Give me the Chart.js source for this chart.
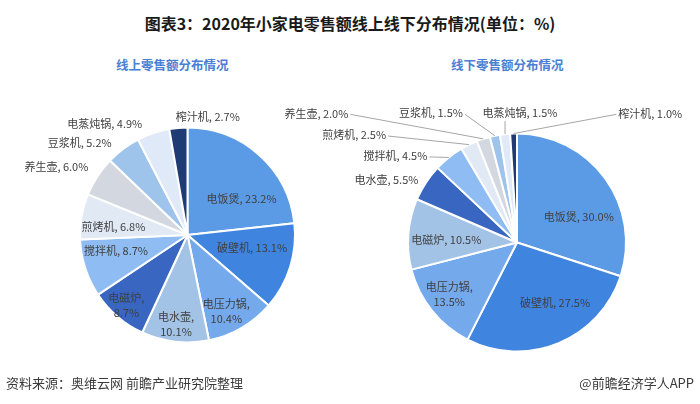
<!DOCTYPE html>
<html>
<head>
<meta charset="utf-8">
<script src="https://cdn.jsdelivr.net/npm/chart.js@4.4.1/dist/chart.umd.min.js"></script>
<style>
  body { margin: 0; background: #fff; }
  #wrap { position: relative; width: 700px; height: 404px; overflow: hidden; font-family: "Noto Sans CJK SC", sans-serif; }
  #wrap canvas { position: absolute; left: 0; top: 0; }
  .title { position: absolute; top: 11px; left: 0; width: 700px; text-align: center; font-size: 16px; font-weight: bold; color: #1a1a1a; }
  .sub { position: absolute; top: 55px; font-size: 12.5px; font-weight: bold; color: #4a80d4; }
  .foot { position: absolute; top: 373px; font-size: 13px; color: #3a3a3a; }
</style>
</head>
<body>
<div id="wrap">
  <div class="title">图表3：2020年小家电零售额线上线下分布情况(单位：%)</div>
  <div class="sub" style="left:116px">线上零售额分布情况</div>
  <div class="sub" style="left:451px">线下零售额分布情况</div>
  <canvas id="online" width="700" height="404"></canvas>
  <canvas id="offline" width="700" height="404"></canvas>
  <div class="foot" style="left:6px">资料来源：奥维云网 前瞻产业研究院整理</div>
  <div class="foot" style="right:6px">@前瞻经济学人APP</div>
</div>
<script>
// 线上
var onlineLabels = ['电饭煲', '破壁机', '电压力锅', '电水壶', '电磁炉', '搅拌机', '煎烤机', '养生壶', '豆浆机', '电蒸炖锅', '榨汁机'];
var onlineValues = [23.2, 13.1, 10.4, 10.1, 8.7, 8.7, 6.8, 6.0, 5.2, 4.9, 2.7];
// 线下
var offlineLabels = ['电饭煲', '破壁机', '电压力锅', '电磁炉', '电水壶', '搅拌机', '煎烤机', '养生壶', '豆浆机', '电蒸炖锅', '榨汁机'];
var offlineValues = [30.0, 27.5, 13.5, 10.5, 5.5, 4.5, 2.5, 2.0, 1.5, 1.5, 1.0];

var sliceColors = ['#5b9be6', '#3f84df', '#74a9ec', '#a3c3e6', '#3866c0', '#8fbdf3',
                   '#e1e9f5', '#d3d8e0', '#9fc4eb', '#dfe9f7', '#1f3b73'];

// where each label goes: inside at r * outerRadius (+nudge), or outside next to the slice
var onlinePlace = [
  {r: 0.6, dx: 11, dy: 12},
  {r: 0.6, dx: 3, dy: -6},
  {r: 0.79, dx: -4, dy: 3, wrap: true},
  {r: 0.84, dx: -1, dy: 0, wrap: true},
  {r: 0.86, dx: -1, dy: 0, wrap: true},
  {r: 0.69, dx: -1, dy: -7},
  {r: 0.7, dx: 0, dy: 5},
  {out: true, align: 'right', dx: -9, dy: -10},
  {out: true, align: 'right', dx: -11.5, dy: -6.5},
  {out: true, align: 'right', dx: -11, dy: -9.5},
  {out: true, align: 'left', dx: -2.5, dy: -11.5}
];
var offlinePlace = [
  {r: 0.69, dx: 1, dy: 19},
  {r: 0.6, dx: 13, dy: 0},
  {r: 0.75, dx: -4, dy: 1, wrap: true},
  {r: 0.66, dx: 1, dy: 3},
  {out: true, align: 'right', dx: -7.5, dy: -2.7},
  {out: true, align: 'right', dx: -21.5, dy: -1.5, line: true},
  {out: true, align: 'right', dx: -83, dy: -9.6, line: true},
  {out: true, align: 'right', dx: -135, dy: -25.5, line: true},
  {out: true, align: 'right', dx: -32, dy: -22.5, line: true},
  {out: true, align: 'center', dx: 15, dy: -21, line: true},
  {out: true, align: 'left', dx: 104.7, dy: -20.2, line: true}
];

var sliceLabels = {
  id: 'sliceLabels',
  afterDatasetsDraw: function(chart, args, opts) {
    var ctx = chart.ctx;
    var ds = chart.data.datasets[0];
    var meta = chart.getDatasetMeta(0);
    ctx.save();
    ctx.font = '11px "Noto Sans CJK SC", sans-serif';
    ctx.textBaseline = 'middle';
    meta.data.forEach(function(arc, i) {
      var p = arc.getProps(['x', 'y', 'startAngle', 'endAngle', 'outerRadius'], true);
      var mid = (p.startAngle + p.endAngle) / 2;
      var lay = opts.place[i];
      var name = chart.data.labels[i] + ',';
      var val = ds.data[i].toFixed(1) + '%';
      if (lay.out) {
        var ax = p.x + Math.cos(mid) * p.outerRadius;
        var ay = p.y + Math.sin(mid) * p.outerRadius;
        var tx = ax + lay.dx, ty = ay + lay.dy;
        if (lay.line) {
          var sx = tx + 2, sy = ty + 1;
          if (lay.align == 'left') sx = tx - 2;
          if (lay.align == 'center') { sx = ax; sy = ty + 8; }
          ctx.strokeStyle = '#a6a6a6';
          ctx.lineWidth = 1;
          ctx.beginPath();
          ctx.moveTo(sx, sy);
          ctx.lineTo(ax, ay);
          ctx.stroke();
        }
        ctx.fillStyle = '#404040';
        ctx.textAlign = lay.align;
        ctx.fillText(name + ' ' + val, tx, ty);
      } else {
        var rr = p.outerRadius * lay.r;
        var cx = p.x + Math.cos(mid) * rr + lay.dx;
        var cy = p.y + Math.sin(mid) * rr + lay.dy;
        ctx.fillStyle = '#404040';
        ctx.textAlign = 'center';
        if (lay.wrap) {
          ctx.fillText(name, cx, cy - 7.5);
          ctx.fillText(val, cx, cy + 7.5);
        } else {
          ctx.fillText(name + ' ' + val, cx, cy);
        }
      }
    });
    ctx.restore();
  }
};

function makePie(id, labels, values, place, radius, pad) {
  var ctx = document.getElementById(id).getContext('2d');
  return new Chart(ctx, {
    type: 'pie',
    data: {
      labels: labels,
      datasets: [{
        data: values,
        backgroundColor: sliceColors,
        borderColor: '#ffffff',
        borderWidth: 2
      }]
    },
    options: {
      responsive: false,
      animation: false,
      radius: radius,
      layout: { padding: pad },
      plugins: {
        legend: { display: false },
        tooltip: { enabled: false },
        sliceLabels: { place: place }
      }
    },
    plugins: [sliceLabels]
  });
}

// pie centres: left (187.5, 235), right (517, 242.5)
var chart1 = makePie('online', onlineLabels, onlineValues, onlinePlace, 107.5,
  {left: 72.5, right: 397.5, top: 120, bottom: 54});
var chart2 = makePie('offline', offlineLabels, offlineValues, offlinePlace, 109,
  {left: 402, right: 68, top: 127.5, bottom: 46.5});
</script>
</body>
</html>
